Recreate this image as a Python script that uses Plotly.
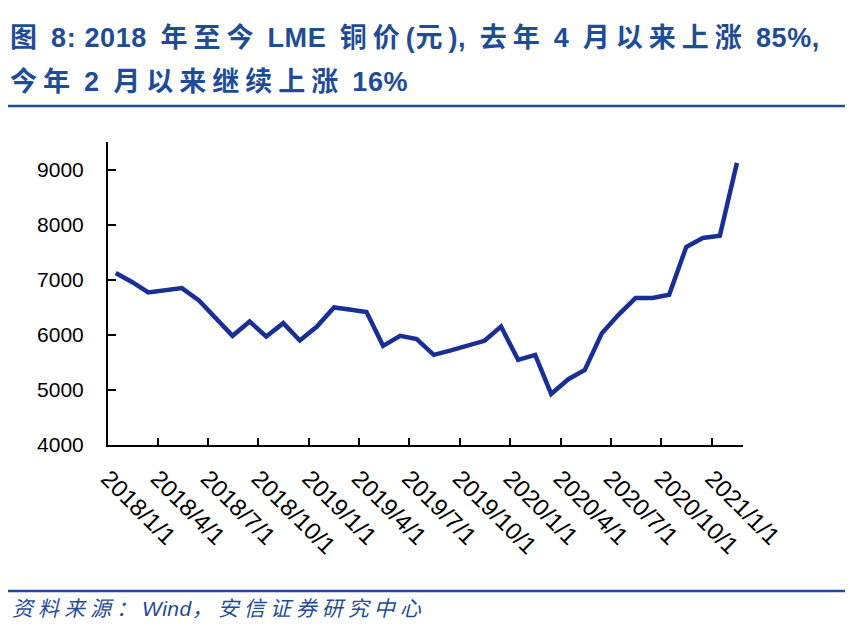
import re
import plotly.graph_objects as go

# ---- data ----
months = [
    "2018-01", "2018-02", "2018-03", "2018-04", "2018-05", "2018-06",
    "2018-07", "2018-08", "2018-09", "2018-10", "2018-11", "2018-12",
    "2019-01", "2019-02", "2019-03", "2019-04", "2019-05", "2019-06",
    "2019-07", "2019-08", "2019-09", "2019-10", "2019-11", "2019-12",
    "2020-01", "2020-02", "2020-03", "2020-04", "2020-05", "2020-06",
    "2020-07", "2020-08", "2020-09", "2020-10", "2020-11", "2020-12",
    "2021-01", "2021-02",
]
copper_price = [
    7121, 6950, 6769, 6810, 6848, 6624, 6300, 5982, 6242, 5970, 6212, 5897,
    6151, 6497, 6460, 6412, 5800, 5982, 5921, 5636, 5717, 5800, 5891, 6151,
    5545, 5636, 4927, 5194, 5364, 6030, 6364, 6667, 6667, 6727, 7594, 7758,
    7800, 9121,
]
tick_dates = [
    "2018-01-01", "2018-04-01", "2018-07-01", "2018-10-01",
    "2019-01-01", "2019-04-01", "2019-07-01", "2019-10-01",
    "2020-01-01", "2020-04-01", "2020-07-01", "2020-10-01",
    "2021-01-01",
]
tick_labels = [
    "2018/1/1", "2018/4/1", "2018/7/1", "2018/10/1",
    "2019/1/1", "2019/4/1", "2019/7/1", "2019/10/1",
    "2020/1/1", "2020/4/1", "2020/7/1", "2020/10/1",
    "2021/1/1",
]
y_ticks = [4000, 5000, 6000, 7000, 8000, 9000]

title_line1 = "图 8: 2018 年至今 LME 铜价(元), 去年 4 月以来上涨 85%,"
title_line2 = "今年 2 月以来继续上涨 16%"
source_text = "资料来源：Wind，安信证券研究中心"

# ---- layout geometry (page pixels; page body has an 8px margin) ----
OFF = 8
W, H = 853 - OFF, 642 - OFF
L, R, T, B = 108 - OFF, 743 - OFF, 142 - OFF, 445 - OFF
PW, PH = R - L, B - T


def px(x):
    return (x - OFF - L) / PW


def py(y):
    return (B - (y - OFF)) / PH


FONT = "Liberation Sans, Arial, Noto Sans CJK SC, sans-serif"
TITLE_BLUE = "#1f4c96"
LINE_BLUE = "#1a2f95"

dates = [m + "-15" for m in months]

fig = go.Figure()
fig.add_trace(go.Scatter(
    x=dates, y=copper_price, mode="lines",
    line=dict(color=LINE_BLUE, width=4.5),
    hoverinfo="skip", showlegend=False,
))

fig.update_layout(
    width=W, height=H,
    margin=dict(l=L, r=W - R, t=T, b=H - B, pad=0),
    paper_bgcolor="white", plot_bgcolor="white",
    font=dict(family=FONT, color="black"),
    showlegend=False,
)

fig.update_xaxes(
    type="date",
    range=["2018-01-01", "2021-02-26"],
    tickmode="array", tickvals=tick_dates, ticktext=tick_labels,
    tickangle=45,
    ticks="inside", ticklen=7, tickwidth=2, tickcolor="black",
    showline=True, linecolor="black", linewidth=2,
    showgrid=False, zeroline=False,
    tickfont=dict(size=24, family=FONT, color="black"),
    ticklabelstandoff=8,
)
fig.update_yaxes(
    range=[4000, 9500],
    tickmode="array", tickvals=y_ticks,
    ticks="inside", ticklen=8, tickwidth=2, tickcolor="black",
    showline=True, linecolor="black", linewidth=2,
    showgrid=False, zeroline=False,
    tickfont=dict(size=21, family=FONT, color="black"),
    ticklabelstandoff=18,
)

CJK = "\u3000-\u303f\u4e00-\u9fff\uff00-\uffef"
TOKEN_RE = re.compile(r"\s*(?:[%s]+|[^\s%s]+)" % (CJK, CJK))
CJK_RE = re.compile(r"[%s]" % CJK)


def spaced(text, cjk_sp, latin_sp):
    out = []
    for tok in TOKEN_RE.findall(text):
        sp = cjk_sp if CJK_RE.search(tok) else latin_sp
        tok = tok.replace(" ", "\u00a0")
        out.append('<span style="letter-spacing:%spx">%s</span>' % (sp, tok))
    return "".join(out)


annotations = [
    dict(text="<b>" + spaced(title_line1, 6, 0.6) + "</b>", x=px(8), y=py(38),
         xanchor="left", yanchor="middle",
         font=dict(size=27, color=TITLE_BLUE, family=FONT)),
    dict(text="<b>" + spaced(title_line2, 6, 0.6) + "</b>", x=px(8), y=py(82),
         xanchor="left", yanchor="middle",
         font=dict(size=27, color=TITLE_BLUE, family=FONT)),
    dict(text="<i>" + spaced(source_text, 5, 0.5) + "</i>", x=px(10), y=py(608),
         xanchor="left", yanchor="middle",
         font=dict(size=21, color=TITLE_BLUE, family=FONT)),
]
for a in annotations:
    a.update(xref="paper", yref="paper", showarrow=False)
fig.update_layout(annotations=annotations)

fig.update_layout(shapes=[
    dict(type="line", xref="paper", yref="paper",
         x0=px(5), x1=px(853), y0=py(106), y1=py(106),
         line=dict(color=TITLE_BLUE, width=2.5)),
    dict(type="line", xref="paper", yref="paper",
         x0=px(7), x1=px(853), y0=py(591), y1=py(591),
         line=dict(color=TITLE_BLUE, width=2.5)),
])

fig.write_html("out.html")
